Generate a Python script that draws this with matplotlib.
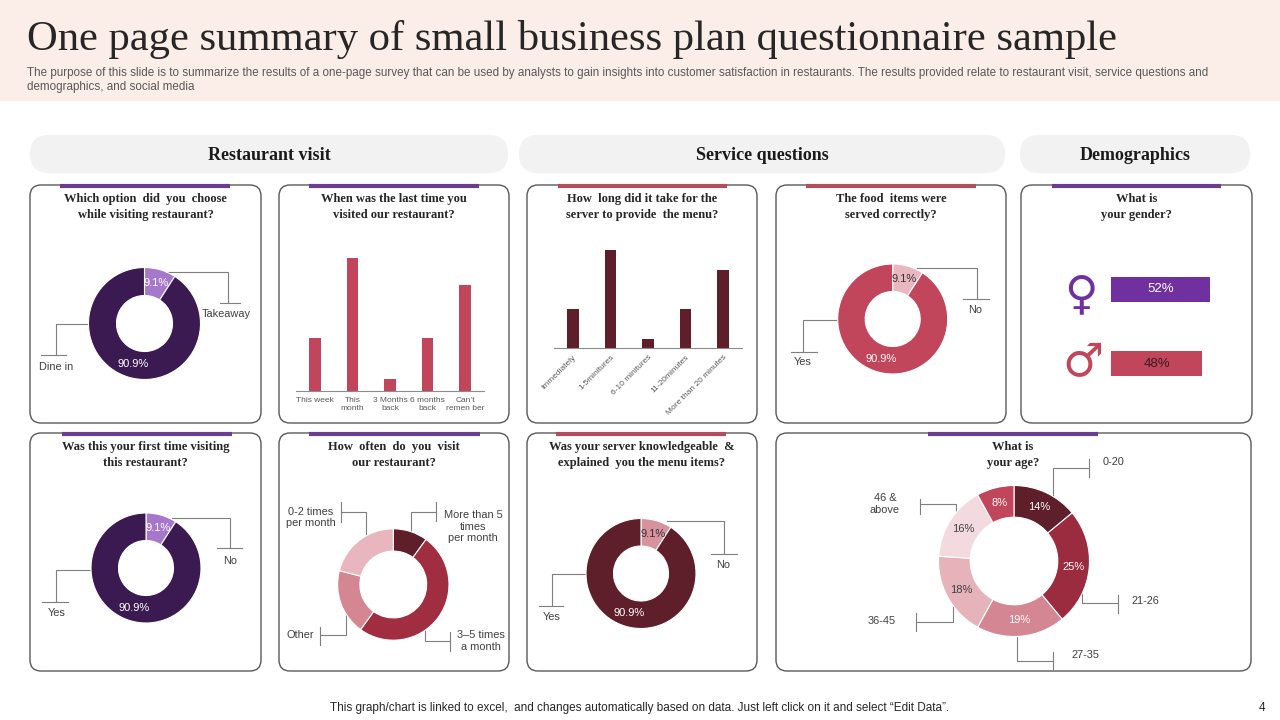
import numpy as np
import matplotlib.pyplot as plt
from matplotlib.patches import FancyBboxPatch, Rectangle

# ---- data ----
visit_option_labels = ['Takeaway', 'Dine in']
visit_option_values = [9.1, 90.9]

last_visit_labels = ['This week', 'This\nmonth', '3 Months\nback', '6 months\nback', 'Can\u2019t\nremen ber']
last_visit_values = [20, 50, 4.5, 20, 40]

menu_time_labels = ['Immediately', '1-5minitures', '6-10 minitures', '11-20minutes', 'More than 20 minutes']
menu_time_values = [20, 50, 4.5, 20, 40]

food_labels = ['No', 'Yes']
food_values = [9.1, 90.9]

gender_labels = ['Female', 'Male']
gender_values = [52, 48]

first_time_labels = ['No', 'Yes']
first_time_values = [9.1, 90.9]

visit_freq_labels = ['More than 5\ntimes\nper month', '3\u20135 times\na month', 'Other', '0-2 times\nper month']
visit_freq_values = [10, 50, 19, 21]

server_labels = ['No', 'Yes']
server_values = [9.1, 90.9]

age_labels = ['0-20', '21-26', '27-35', '36-45', '46 &\nabove']
age_values = [14, 25, 19, 18, 16, 8]

# ---- colours ----
purple = '#6B3D8F'
red_acc = '#B34C5E'
dark_purple = '#3B1A52'
light_purple = '#A678CB'
rose = '#C2465B'
pink = '#E9B7C0'
maroon = '#5E1F2B'
grey_line = '#7F7F7F'
txt = '#404040'

W, H = 1280, 720
fig = plt.figure(figsize=(12.8, 7.2), dpi=100)
bg = fig.add_axes([0, 0, 1, 1])
bg.set_xlim(0, W)
bg.set_ylim(H, 0)
bg.axis('off')

serif = 'Liberation Serif'
sans = ['Liberation Sans', 'DejaVu Sans']


def px_axes(x0, y0, x1, y1):
    ax = fig.add_axes([x0 / W, 1 - y1 / H, (x1 - x0) / W, (y1 - y0) / H])
    ax.set_facecolor('none')
    return ax


# header band
bg.add_patch(Rectangle((0, 0), W, 100, color='#FBEDE7', zorder=0))
bg.text(27, 50, 'One page summary of small business plan questionnaire sample',
        family=serif, fontsize=30.7, color='#262626', va='baseline')
bg.text(27, 73, 'The purpose of this slide is to summarize the results of a one-page survey that can be used by analysts '
        'to gain insights into customer satisfaction in restaurants. The results provided relate to restaurant visit, '
        'service questions and', family=sans, fontsize=8.4, color='#595959', va='center')
bg.text(27, 87, 'demographics, and social media', family=sans, fontsize=8.4, color='#595959', va='center')

# section pills
for x0, x1, name in [(30, 508, 'Restaurant visit'), (519, 1005, 'Service questions'), (1020, 1250, 'Demographics')]:
    bg.add_patch(FancyBboxPatch((x0, 135), x1 - x0, 38, boxstyle='round,pad=0,rounding_size=19',
                                fc='#F2F2F2', ec='none'))
    bg.text((x0 + x1) / 2, 155, name, family=serif, fontsize=13, fontweight='bold',
            color='#1a1a1a', ha='center', va='center')

# panels
panels = [
    (30, 185, 261, 423, 60, 230, purple, 'Which option  did  you  choose\nwhile visiting restaurant?'),
    (279, 185, 509, 423, 309, 479, purple, 'When was the last time you\nvisited our restaurant?'),
    (527, 185, 757, 423, 558, 727, red_acc, 'How  long did it take for the\nserver to provide  the menu?'),
    (776, 185, 1006, 423, 806, 976, red_acc, 'The food  items were\nserved correctly?'),
    (1021, 185, 1252, 423, 1052, 1221, purple, 'What is\nyour gender?'),
    (30, 433, 261, 671, 62, 232, purple, 'Was this your first time visiting\nthis restaurant?'),
    (279, 433, 509, 671, 309, 480, purple, 'How  often  do  you  visit\nour restaurant?'),
    (527, 433, 757, 671, 556, 726, red_acc, 'Was your server knowledgeable  &\nexplained  you the menu items?'),
    (776, 433, 1251, 671, 928, 1098, purple, 'What is\nyour age?'),
]
for x0, y0, x1, y1, a0, a1, ac, title in panels:
    bg.add_patch(FancyBboxPatch((x0, y0), x1 - x0, y1 - y0, boxstyle='round,pad=0,rounding_size=11',
                                fc='white', ec='#595959', lw=1.0))
    bg.plot([a0, a1], [y0 + 0.5, y0 + 0.5], color=ac, lw=3, solid_capstyle='butt')
    cx = (x0 + x1) / 2 if x1 - x0 < 300 else 1013
    for k, line in enumerate(title.split('\n')):
        bg.text(cx, y0 + 14 + 16 * k, line, family=serif, fontsize=9, fontweight='bold',
                color='#262626', ha='center', va='center')


def donut(cx, cy, r, values, colors, ratio, pct_colors=None, pct_labels=None):
    ax = px_axes(cx - r, cy - r, cx + r, cy + r)
    ax.pie(values, colors=colors, startangle=90, counterclock=False, radius=1,
           wedgeprops=dict(width=1 - ratio, edgecolor='white', linewidth=0.8))
    ax.set_xlim(-1, 1)
    ax.set_ylim(-1, 1)
    ax.axis('off')
    if pct_labels is not None:
        total = sum(values)
        start = 90.0
        rm = (1 + ratio) / 2
        for v, lab, c in zip(values, pct_labels, pct_colors):
            mid = np.radians(start - 360 * v / total / 2)
            ax.text(rm * np.cos(mid), rm * np.sin(mid), lab, ha='center', va='center',
                    family=sans, fontsize=8, color=c)
            start -= 360 * v / total
    return ax


def pct(v):
    return f'{v:g}%'


# donuts with two slices
donut(144.5, 323.5, 56, visit_option_values, [light_purple, dark_purple], 0.5,
      ['white', 'white'], [pct(v) for v in visit_option_values])
donut(146, 568, 55, first_time_values, [light_purple, dark_purple], 0.5,
      ['white', 'white'], [pct(v) for v in first_time_values])
donut(892.7, 319, 55, food_values, [pink, rose], 0.5,
      ['#333333', 'white'], [pct(v) for v in food_values])
donut(641, 573.5, 55, server_values, ['#D8929E', maroon], 0.5,
      ['#333333', 'white'], [pct(v) for v in server_values])

# visit frequency donut (no percentages)
donut(393.3, 584.5, 55.7, visit_freq_values, [maroon, '#A02D40', '#D48792', '#E9B5BE'], 0.6)

# age donut
age_colors = [maroon, '#9B2B3F', '#D48792', '#E6B3BB', '#F3DADF', rose]
donut(1014, 561, 75.5, age_values, age_colors, 0.58,
      ['white', 'white', 'white', txt, txt, 'white'], [pct(v) for v in age_values])

# leader lines and their labels
leaders = [
    [(168, 272), (228, 272), (228, 303)], [(220, 303), (240, 303)],
    [(89, 323.5), (56, 323.5), (56, 355)], [(41, 355), (66, 355)],
    [(172, 517.5), (230, 517.5), (230, 548)], [(217, 548), (242, 548)],
    [(91, 569.5), (56, 569.5), (56, 601.5)], [(42, 601.5), (68, 601.5)],
    [(917, 267.5), (976.5, 267.5), (976.5, 298.5)], [(963, 298.5), (989, 298.5)],
    [(838, 319.5), (802.5, 319.5), (802.5, 351.5)], [(791, 351.5), (817, 351.5)],
    [(667, 520.5), (724, 520.5), (724, 553.5)], [(711, 553.5), (737, 553.5)],
    [(586, 574), (551.5, 574), (551.5, 606)], [(539, 606), (563, 606)],
    [(411, 532), (411, 511.5), (435.5, 511.5)], [(435.5, 502), (435.5, 521)],
    [(365.5, 535), (365.5, 511.5), (341, 511.5)], [(341, 502), (341, 521.5)],
    [(346, 612), (346, 635), (320, 635)], [(320, 627), (320, 645)],
    [(424.5, 630), (424.5, 641), (450, 641)], [(450, 632), (450, 651)],
    [(1052.5, 497), (1052.5, 467.5), (1089, 467.5)], [(1089, 458.5), (1089, 476.5)],
    [(1081.5, 593), (1081.5, 603), (1117.5, 603)], [(1117.5, 595), (1117.5, 613)],
    [(1016.5, 637), (1016.5, 661), (1053, 661)], [(1053, 652), (1053, 669)],
    [(952.5, 606), (952.5, 621.5), (915.5, 621.5)], [(915.5, 613), (915.5, 631)],
    [(956, 511), (956, 504), (919.5, 504)], [(919.5, 498.5), (919.5, 513.5)],
]
for seg in leaders:
    xs, ys = zip(*seg)
    bg.plot(xs, ys, color=grey_line, lw=0.8)

label_pos = [
    (visit_option_labels[0], 226, 314), (visit_option_labels[1], 56, 367),
    (first_time_labels[0], 230, 561), (first_time_labels[1], 57, 612.5),
    (food_labels[0], 975.5, 310), (food_labels[1], 803, 362),
    (server_labels[0], 723, 565), (server_labels[1], 552, 617),
    (visit_freq_labels[0], 473, 526.5), (visit_freq_labels[1], 481, 641),
    (visit_freq_labels[2], 300, 635), (visit_freq_labels[3], 311, 517.5),
    (age_labels[0], 1114, 462), (age_labels[1], 1145, 601.5), (age_labels[2], 1086, 655),
    (age_labels[3], 881.5, 620.5), (age_labels[4], 885, 504),
]
for lab, x, y in label_pos:
    bg.text(x, y, lab, family=sans, fontsize=7.9, color=txt, ha='center', va='center',
            linespacing=1.2)

# bar chart: last visit
ax1 = px_axes(296, 251, 484, 391)
ax1.bar(range(len(last_visit_values)), last_visit_values, width=0.31, color=rose)
ax1.set_xlim(-0.5, 4.5)
ax1.set_ylim(0, 52.6)
ax1.set_xticks(range(len(last_visit_labels)))
ax1.set_xticklabels(last_visit_labels, family=sans, fontsize=6.0, color='#595959', linespacing=1.25)
ax1.tick_params(length=0, pad=4)
ax1.set_yticks([])
for s in ['top', 'left', 'right']:
    ax1.spines[s].set_visible(False)
ax1.spines['bottom'].set_color('#8C8C8C')
ax1.spines['bottom'].set_linewidth(0.8)

# bar chart: menu time
ax2 = px_axes(554, 245, 742, 348)
ax2.bar(range(len(menu_time_values)), menu_time_values, width=0.31, color=maroon)
ax2.set_xlim(-0.5, 4.5)
ax2.set_ylim(0, 52.6)
ax2.set_xticks(range(len(menu_time_labels)))
ax2.set_xticklabels(menu_time_labels, family=sans, fontsize=6.0, color='#595959',
                    rotation=45, ha='right', rotation_mode='anchor')
ax2.tick_params(length=0, pad=4)
ax2.set_yticks([])
for s in ['top', 'left', 'right']:
    ax2.spines[s].set_visible(False)
ax2.spines['bottom'].set_color('#8C8C8C')
ax2.spines['bottom'].set_linewidth(0.8)

# gender bars
gax = px_axes(1111, 252, 1231, 401)
gcolors = ['#7030A0', rose]
gax.barh(range(len(gender_values)), gender_values, height=0.33, color=gcolors)
gax.set_xlim(0, 63)
gax.set_ylim(1.5, -0.5)
gax.axis('off')
for i, v in enumerate(gender_values):
    gax.text(v / 2, i, f'{v}%', ha='center', va='center', family=sans, fontsize=9.5,
             color='white' if i == 0 else '#3A1A20')
bg.text(1081, 296, '\u2640', family='DejaVu Sans', fontsize=33, fontweight='bold',
        color='#7030A0', ha='center', va='center')
bg.text(1083, 364, '\u2642', family='DejaVu Sans', fontsize=33, fontweight='bold',
        color=rose, ha='center', va='center')

# footer
bg.text(640, 708, 'This graph/chart is linked to excel,  and changes automatically based on data. '
        'Just left click on it and select \u201cEdit Data\u201d.', family=sans, fontsize=8.5,
        color='#262626', ha='center', va='center')
bg.text(1262, 708, '4', family=sans, fontsize=8.5, color='#262626', ha='center', va='center')

fig.savefig('out.png', dpi=100)
